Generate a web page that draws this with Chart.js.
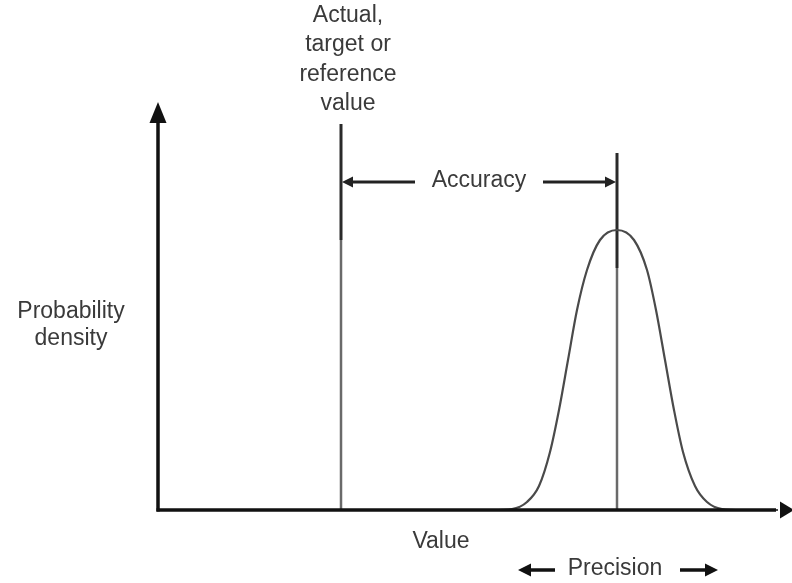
<!DOCTYPE html>
<html>
<head>
<meta charset="utf-8">
<script src="https://cdn.jsdelivr.net/npm/chart.js@4/dist/chart.umd.min.js"></script>
<style>
html,body{margin:0;padding:0;background:#fff;}
#wrap{width:792px;height:583px;}
</style>
</head>
<body>
<div id="wrap"><canvas id="c" width="792" height="583"></canvas></div>
<script>
// Probability density curve (value units, density units)
const curveX = [300, 334, 354, 369, 381, 392, 401, 410, 419, 429, 442, 459, 476, 489, 498, 507, 516, 525, 537, 549, 564, 584, 620];
const curveY = [0,   0,   1,   8,   24,  58,  100, 150, 200, 240, 270, 280, 270, 240, 200, 150, 100, 58,  24,  8,   1,   0,   0];

// Reference value and measured mean
const refValue = 183;
const meanValue = 459;
const refLineY = [0, 270, 386];     // bottom, start of dark part, top
const meanLineY = [0, 242, 357];
const accuracyY = 328;
const accuracyGap = [257, 385];      // gap around the "Accuracy" label
const precisionY = -60;
const precisionArrows = [[397, 360], [522, 560]];  // [from, tip]

// Axis ranges
const xRange = [0, 634];
const yRange = [0, 408];

// Labels
const refLabelLines = ["Actual,", "target or", "reference", "value"];
const refLabelX = 190;
const refLabelY = [488, 459, 429, 400];
const yTitleLines = ["Probability", "density"];
const yTitleX = -87;
const yTitleY = [192, 165];
const xTitle = "Value";
const xTitleX = 283;
const xTitleY = -38;
const accuracyLabel = "Accuracy";
const accuracyLabelX = 321;
const precisionLabel = "Precision";
const precisionLabelX = 457;

const FONT = '23px "Liberation Sans", Arial, sans-serif';
const TEXT = '#3a3a3a';

function pts(xs, ys){ return xs.map((x,i)=>({x:x, y:ys[i]})); }

const overlay = {
  id: 'overlay',
  afterDatasetsDraw(chart){
    const ctx = chart.ctx;
    const xs = chart.scales.x, ys = chart.scales.y;
    const X = v => xs.getPixelForValue(v);
    const Y = v => ys.getPixelForValue(v);
    ctx.save();
    // axes
    ctx.strokeStyle = '#111';
    ctx.fillStyle = '#111';
    ctx.lineWidth = 3.5;
    ctx.lineCap = 'butt';
    const ox = X(xRange[0]), oy = Y(yRange[0]);
    const yTip = Y(yRange[1]);
    ctx.beginPath();
    ctx.moveTo(ox, oy + 1.5);
    ctx.lineTo(ox, yTip + 18);
    ctx.stroke();
    ctx.beginPath();
    ctx.moveTo(ox, yTip); ctx.lineTo(ox - 8.5, yTip + 21); ctx.lineTo(ox + 8.5, yTip + 21); ctx.closePath(); ctx.fill();
    const xTip = X(xRange[1]) + 2;
    ctx.beginPath();
    ctx.moveTo(ox - 1.5, oy);
    ctx.lineTo(xTip - 18, oy);
    ctx.stroke();
    ctx.beginPath();
    ctx.moveTo(xTip, oy); ctx.lineTo(xTip - 14, oy - 8.5); ctx.lineTo(xTip - 14, oy + 8.5); ctx.closePath(); ctx.fill();

    // arrows helper
    function arrow(x1, y1, x2, y2, color, w, head){
      ctx.strokeStyle = color; ctx.fillStyle = color; ctx.lineWidth = w;
      const ang = Math.atan2(y2 - y1, x2 - x1);
      const bx = x2 - Math.cos(ang) * head, by = y2 - Math.sin(ang) * head;
      ctx.beginPath(); ctx.moveTo(x1, y1); ctx.lineTo(bx, by); ctx.stroke();
      ctx.beginPath();
      ctx.moveTo(x2, y2);
      ctx.lineTo(bx + Math.sin(ang) * head * 0.5, by - Math.cos(ang) * head * 0.5);
      ctx.lineTo(bx - Math.sin(ang) * head * 0.5, by + Math.cos(ang) * head * 0.5);
      ctx.closePath(); ctx.fill();
    }
    // accuracy
    arrow(X(accuracyGap[0]), Y(accuracyY), X(refValue) + 1, Y(accuracyY), '#222', 3, 11);
    arrow(X(accuracyGap[1]), Y(accuracyY), X(meanValue) - 1, Y(accuracyY), '#222', 3, 11);
    // precision
    precisionArrows.forEach(a => arrow(X(a[0]), Y(precisionY), X(a[1]), Y(precisionY), '#111', 3.5, 13));

    // texts
    ctx.font = FONT;
    ctx.fillStyle = TEXT;
    ctx.textAlign = 'center';
    ctx.textBaseline = 'alphabetic';
    refLabelLines.forEach((t, i) => ctx.fillText(t, X(refLabelX), Y(refLabelY[i])));
    yTitleLines.forEach((t, i) => ctx.fillText(t, X(yTitleX), Y(yTitleY[i])));
    ctx.fillText(xTitle, X(xTitleX), Y(xTitleY));
    ctx.textBaseline = 'middle';
    ctx.fillText(accuracyLabel, X(accuracyLabelX), Y(accuracyY) - 1);
    ctx.fillText(precisionLabel, X(precisionLabelX), Y(precisionY) - 1);
    ctx.restore();
  }
};

new Chart(document.getElementById('c'), {
  type: 'line',
  data: {
    datasets: [
      { data: pts(curveX, curveY), borderColor: '#4a4a4a', borderWidth: 2.2, pointRadius: 0, cubicInterpolationMode: 'monotone', fill: false },
      { data: pts([refValue, refValue], [refLineY[0], refLineY[1]]), borderColor: '#6a6a6a', borderWidth: 2.5, pointRadius: 0 },
      { data: pts([refValue, refValue], [refLineY[1], refLineY[2]]), borderColor: '#2a2a2a', borderWidth: 3, pointRadius: 0 },
      { data: pts([meanValue, meanValue], [meanLineY[0], meanLineY[1]]), borderColor: '#6a6a6a', borderWidth: 2.5, pointRadius: 0 },
      { data: pts([meanValue, meanValue], [meanLineY[1], meanLineY[2]]), borderColor: '#2a2a2a', borderWidth: 3, pointRadius: 0 }
    ]
  },
  options: {
    responsive: false,
    animation: false,
    layout: { padding: { left: 158, right: 0, top: 102, bottom: 73 } },
    plugins: { legend: { display: false }, tooltip: { enabled: false } },
    scales: {
      x: { type: 'linear', min: xRange[0], max: xRange[1], display: false },
      y: { type: 'linear', min: yRange[0], max: yRange[1], display: false }
    },
    clip: false
  },
  plugins: [overlay]
});
</script>
</body>
</html>
